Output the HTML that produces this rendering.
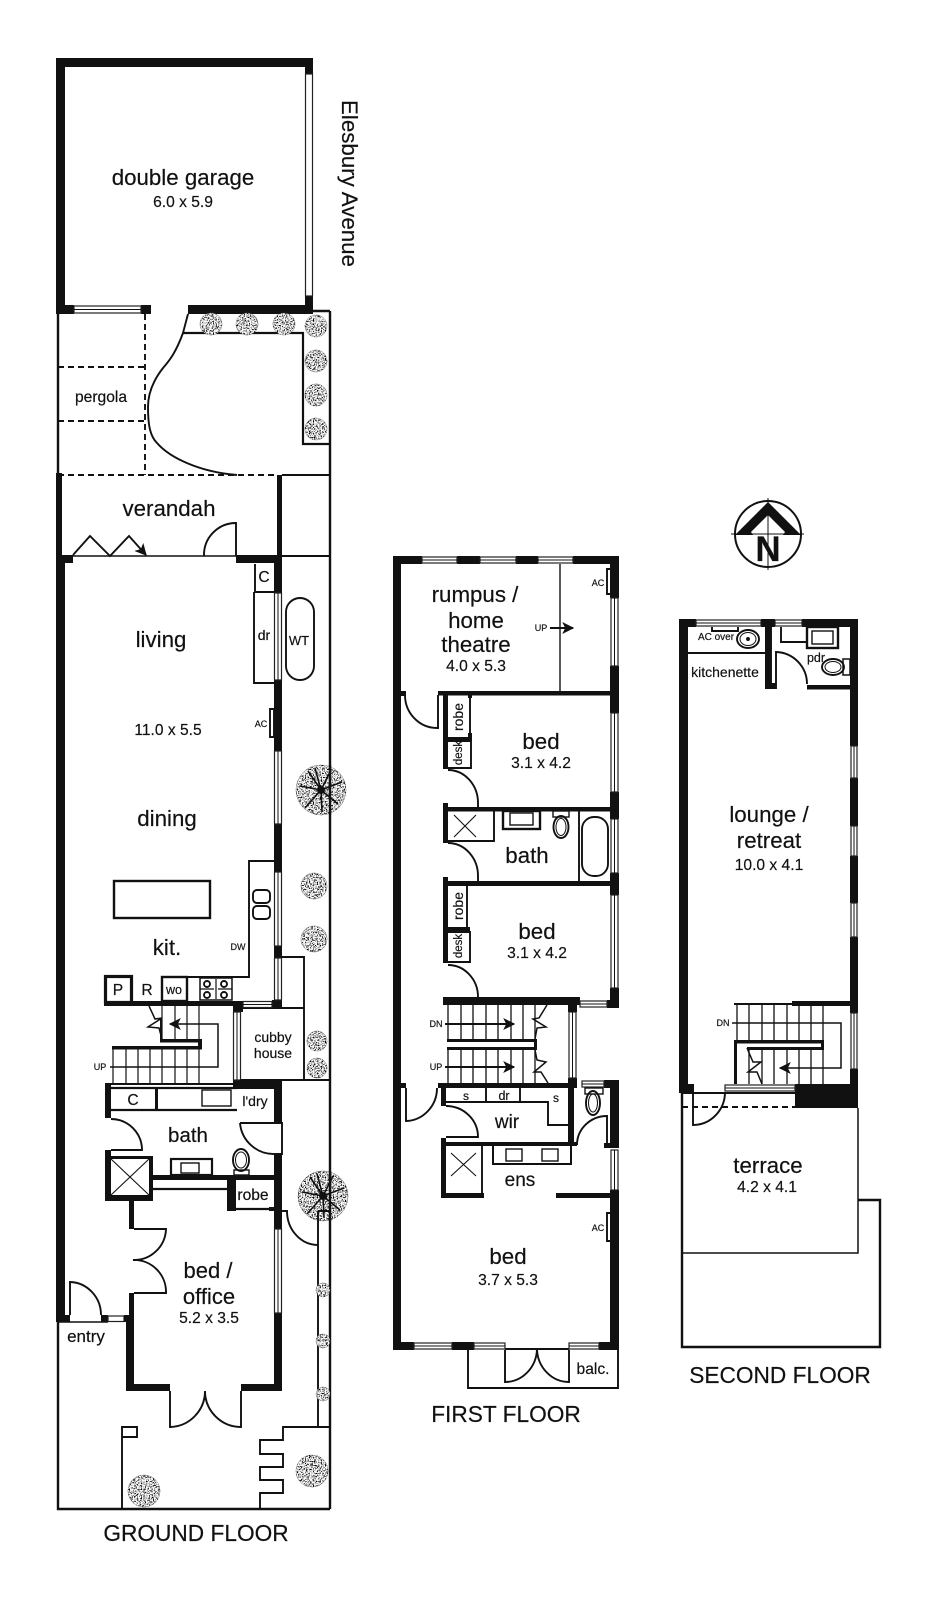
<!DOCTYPE html>
<html><head><meta charset="utf-8"><style>
html,body{margin:0;padding:0;background:#fff}
svg{display:block}
text{font-family:"Liberation Sans",sans-serif;fill:#111;text-anchor:middle;stroke:#111;stroke-width:.18px}
.t{font-size:22.3px}.s{font-size:15.6px}.m{font-size:19px}.x{font-size:9px}.f{font-size:22.7px}
.n{fill:none;stroke:#111;stroke-width:1}
.d{fill:none;stroke:#111;stroke-width:1.9;stroke-dasharray:6 4}
.w{fill:#fff;stroke:#222;stroke-width:1.2}
</style></head><body>
<svg width="933" height="1600" viewBox="0 0 933 1600" xmlns="http://www.w3.org/2000/svg">
<defs>
<filter id="sp" filterUnits="userSpaceOnUse" x="0" y="0" width="933" height="1600">
<feTurbulence type="fractalNoise" baseFrequency=".75" numOctaves="2" seed="4" result="n"/>
<feColorMatrix in="n" type="matrix" values="0 0 0 0 0 0 0 0 0 0 0 0 0 0 0 6 0 0 0 -2.75" result="k"/>
<feComposite in="k" in2="SourceAlpha" operator="in" result="c"/>
<feMerge><feMergeNode in="SourceGraphic"/><feMergeNode in="c"/></feMerge>
</filter>
<marker id="a" viewBox="0 0 10 10" refX="9" refY="5" markerWidth="12" markerHeight="12" orient="auto" markerUnits="userSpaceOnUse"><path d="M0 0L10 5L0 10L2.5 5Z" fill="#111" stroke="none"/></marker>
</defs>
<rect width="933" height="1600" fill="#fff"/>

<!-- GROUND: site lines -->
<g fill="none" stroke="#111" stroke-width="1.9">
<path d="M330 311H313M330 311V1509M58 314V473M58 1322V1509H330" stroke-width="2.4"/>
<path d="M183 333H303V444H330" stroke-width="2.2"/>
<path d="M188 314L183 333C176 352 170 360 163 368C152 382 148 395 148 407C148 425 150 436 157 443C170 458 200 472 237 475"/>
<path d="M282 475H330M282 556H330"/>
<path d="M73 556H236" stroke-width="1.6"/>
<path d="M73 555L90 536L110 556L129 536L146 555" marker-end="url(#a)"/>
<path d="M236 556V523A32 32 0 0 0 204 556"/>
<rect x="286" y="598" width="28" height="82" rx="14"/>
<path d="M282 957H304V1080M241 1008H304M241 1080H330" />
<path d="M318 1427V1211H330M282 1211H287A31 34 0 0 0 318 1245"/>
<path d="M330 1427H283V1440H260V1454H283V1467H260V1480H283V1493H260V1509"/>
<path d="M122 1509V1427H137V1437H122"/>
<path d="M58 1322H108" stroke-width="1.6"/>
</g>
<g class="d">
<path d="M145 314V475M58 367H145M58 421H145M58 475H277"/>
</g>

<!-- GROUND: interior lines -->
<g fill="none" stroke="#111" stroke-width="1.9">
<path d="M255 564V592H274M254 592V683H274" />
<path d="M270 709H274V737H270Z"/>
<path d="M274 861H249V977H162"/>
<rect x="114" y="881" width="96" height="37" stroke-width="2.4"/>
<rect x="253" y="890" width="17" height="13" rx="4"/><rect x="253" y="906" width="17" height="13" rx="4"/>
<rect x="105.500" y="976.500" width="26" height="26" stroke-width="3.2"/>
<rect x="162" y="977" width="25" height="24" stroke-width="2.4"/>
<rect x="200" y="978" width="32" height="22" stroke-width="1.5"/>
<circle cx="207" cy="984" r="3"/><circle cx="207" cy="995" r="3"/><circle cx="224" cy="984" r="3"/><circle cx="224" cy="995" r="3"/>
<path d="M216 979V999M200 989H214M218 989H232" stroke-width="1.2"/>
<path d="M162 1006V1039M175 1006V1039M187 1006V1039M199 1006V1039M113 1049V1084M126 1049V1084M138 1049V1084M150 1049V1084M162 1049V1084M175 1049V1084M187 1049V1084M199 1049V1084" stroke-width="1.2"/>
<path d="M110 1067H218V1024H170" marker-end="url(#a)" stroke-width="1.5"/>
<path d="M149 1006L155 1019L162 1018L148 1027L159 1028L162 1039" stroke-width="1.5"/>
<path d="M111 1088H237M111 1110H237" stroke-width="2.2"/>
<rect x="202" y="1090" width="29" height="16" stroke-width="1.4"/>
<path d="M111 1119A31 31 0 0 1 142 1150H111"/>
<path d="M240 1123A34 34 0 0 0 275 1154H282V1123H240" />
<rect x="171" y="1159" width="41" height="16" stroke-width="2.2"/><rect x="181" y="1163" width="18" height="10" stroke-width="1.4"/>
<ellipse cx="241" cy="1160" rx="8" ry="11"/><ellipse cx="241" cy="1160" rx="5.500" ry="8" stroke-width="1"/><rect x="234" y="1170" width="15" height="5" stroke-width="1.4"/>
<path d="M111 1159L149 1195M149 1159L111 1195" stroke-width="1.1"/>
<path d="M153 1189H227M236 1209H274" stroke-width="2.2"/>
<path d="M134 1229H166A32 32 0 0 1 133 1260A32 32 0 0 1 166 1293H134"/>
<path d="M70 1315V1282A32 33 0 0 1 101 1315"/>
<path d="M170 1391V1427A36 36 0 0 0 205 1391A36 36 0 0 0 241 1427V1391"/>
</g>

<!-- GROUND: solid walls -->
<g fill="#111">
<rect x="56" y="58" width="257" height="9"/>
<rect x="56" y="58" width="9" height="256"/>
<rect x="305" y="58" width="8" height="16"/><rect x="305" y="296" width="8" height="18"/>
<rect x="56" y="305" width="18" height="9"/><rect x="141" y="305" width="10" height="9"/>
<rect x="188" y="305" width="125" height="9"/>
<rect x="56" y="473" width="6" height="90"/>
<rect x="277" y="475" width="5" height="88"/>
<rect x="56" y="555" width="17" height="8"/>
<rect x="236" y="555" width="46" height="8"/>
<rect x="56" y="563" width="9" height="759"/>
<rect x="56" y="1315" width="14" height="7"/>
<rect x="274" y="555" width="8" height="38"/><rect x="274" y="680" width="8" height="71"/><rect x="274" y="824" width="8" height="48"/><rect x="274" y="946" width="8" height="12"/><rect x="272" y="1000" width="10" height="8"/>
<rect x="104" y="1001" width="139" height="5"/>
<rect x="233" y="1001" width="10" height="11"/>
<rect x="112" y="1046" width="90" height="3.500"/><rect x="160" y="1039" width="42" height="3.500"/><rect x="198" y="1039" width="4" height="10"/><rect x="160" y="1019" width="2" height="22"/>
<rect x="105" y="1083" width="128" height="2"/>
<rect x="233" y="1080" width="49" height="9"/>
<rect x="105" y="1084" width="6" height="34"/>
<rect x="155" y="1088" width="3" height="22"/>
<rect x="274" y="1084" width="8" height="39"/>
<rect x="274" y="1154" width="8" height="75"/>
<rect x="105" y="1150" width="6" height="50"/><rect x="105" y="1195" width="48" height="6"/><rect x="105" y="1156" width="48" height="3"/><rect x="149" y="1156" width="4" height="45"/>
<rect x="149" y="1175" width="126" height="5"/>
<rect x="227" y="1175" width="9" height="36"/>
<rect x="269" y="1207" width="6" height="4"/>
<rect x="129" y="1200" width="5" height="29"/><rect x="129" y="1293" width="5" height="25"/>
<rect x="126" y="1315" width="8" height="76"/>
<rect x="126" y="1384" width="44" height="7"/><rect x="241" y="1384" width="41" height="7"/>
<rect x="274" y="1313" width="8" height="78"/>
<rect x="101" y="1315" width="7" height="7"/>
</g>
<!-- GROUND: windows -->
<g>
<rect class="w" x="305.500" y="74" width="7" height="222"/>
<rect class="w" x="74" y="306" width="67" height="7"/><path d="M74 309.500H141" class="n"/>
<rect class="w" x="274.500" y="593" width="7" height="87"/><path d="M278 593V680" class="n"/>
<rect class="w" x="274.500" y="751" width="7" height="73"/><path d="M278 751V824" class="n"/>
<rect class="w" x="274.500" y="872" width="7" height="74"/><path d="M278 872V946" class="n"/>
<rect class="w" x="274.500" y="958" width="7" height="42"/><path d="M278 958V1000" class="n"/>
<rect class="w" x="243" y="1001.500" width="29" height="6"/><path d="M243 1004.500H272" class="n"/>
<rect class="w" x="233.500" y="1012" width="7" height="68"/><path d="M237 1012V1080" class="n"/>
<rect class="w" x="274.500" y="1229" width="7" height="84"/><path d="M278 1229V1313" class="n"/>
<rect class="w" x="108" y="1316" width="16" height="5.500"/><rect fill="#111" x="124" y="1315" width="10" height="7"/>
</g>

<!-- Plants -->
<g filter="url(#sp)" fill="#fff" stroke="#666" stroke-width=".4">
<circle cx="211" cy="324" r="11"/><circle cx="247" cy="324" r="11"/><circle cx="284" cy="324" r="11"/><circle cx="316" cy="326" r="11"/><circle cx="316" cy="361" r="11"/><circle cx="316" cy="395" r="11"/><circle cx="316" cy="429" r="11"/>
<circle cx="314" cy="886" r="13"/><circle cx="314" cy="939" r="13"/><circle cx="317" cy="1041" r="10"/><circle cx="317" cy="1068" r="10"/>
<circle cx="323" cy="1290" r="7"/><circle cx="323" cy="1341" r="7"/><circle cx="323" cy="1394" r="7"/>
<circle cx="312" cy="1471" r="16"/><circle cx="144" cy="1491" r="16"/>
<circle cx="321" cy="790" r="25"/><circle cx="323" cy="1196" r="25"/>
</g>
<g stroke="#111" stroke-width="1.6" fill="none">
<path d="M321 790L300 786M321 790L342 782M321 790L308 771M321 790L331 770M321 790L305 808M321 790L322 812M321 790L338 804M321 790L315 768" />
<path d="M323 1196L302 1192M323 1196L344 1188M323 1196L310 1177M323 1196L333 1176M323 1196L307 1214M323 1196L324 1218M323 1196L340 1210M323 1196L317 1174" />
<path d="M330 765V815M330 1171V1221" stroke-width="2.4"/>
<path d="M318 1211V1221M318 1211H330" stroke-width="1.9"/>
</g>
<circle cx="321" cy="790" r="4" fill="#111"/><circle cx="323" cy="1196" r="4" fill="#111"/>

<!-- GROUND text -->
<text class="t" x="183" y="185">double garage</text>
<text class="s" x="183" y="207">6.0 x 5.9</text>
<text class="s" x="101" y="402">pergola</text>
<text class="t" x="169" y="516">verandah</text>
<text class="t" transform="translate(342 100) rotate(90)" style="text-anchor:start">Elesbury Avenue</text>
<text class="t" x="161" y="647">living</text>
<text class="s" x="168" y="735">11.0 x 5.5</text>
<text class="t" x="167" y="826">dining</text>
<text class="t" x="167" y="955">kit.</text>
<text class="s" x="264" y="582">C</text>
<text style="font-size:14px" x="264" y="640">dr</text>
<text style="font-size:13px" x="299" y="645">WT</text>
<text class="x" x="261" y="727">AC</text>
<text class="x" x="238" y="950">DW</text>
<text class="s" x="118" y="995">P</text>
<text class="s" x="147" y="995">R</text>
<text style="font-size:12.5px" x="174" y="994">wo</text>
<text style="font-size:14px" x="273" y="1042">cubby</text>
<text style="font-size:14px" x="273" y="1058">house</text>
<text class="x" x="100" y="1070">UP</text>
<text class="s" x="133" y="1105">C</text>
<text style="font-size:14px" x="255" y="1106">l'dry</text>
<text style="font-size:20.5px" x="188" y="1142">bath</text>
<text class="s" x="253" y="1200">robe</text>
<text style="font-size:22px" x="208" y="1278">bed /</text>
<text style="font-size:22px" x="209" y="1304">office</text>
<text class="s" x="209" y="1323">5.2 x 3.5</text>
<text style="font-size:17px" x="86" y="1342">entry</text>
<text class="f" x="196" y="1541">GROUND FLOOR</text>

<!-- FIRST FLOOR lines -->
<g fill="none" stroke="#111" stroke-width="1.9">
<path d="M560 564V691" stroke-width="1.4"/>
<path d="M607 569H611V594H607Z"/>
<path d="M550 628H573" marker-end="url(#a)"/>
<path d="M405 695A32 33 0 0 0 437 728H438V695" />
<path d="M470 695V737M448 741H471V768H448" />
<path d="M448 770A30 33 0 0 1 478 803V808"/>
<path d="M448 841H494V811"/>
<path d="M454 815L476 837M476 815L454 837" stroke-width="1.1"/>
<rect x="503" y="811" width="37" height="18" stroke-width="2.4"/><rect x="510" y="813" width="23" height="12" stroke-width="1.4"/>
<ellipse cx="561" cy="827" rx="7.500" ry="11"/><ellipse cx="561" cy="827" rx="5" ry="8.500" stroke-width="1"/><rect x="553" y="811" width="16" height="6" stroke-width="1.4"/>
<path d="M579 811V881"/><rect x="582" y="817" width="26" height="59" rx="12"/>
<path d="M448 843A30 33 0 0 1 478 877V882"/>
<path d="M467 886V927M448 932H470V962H448"/>
<path d="M448 965A30 32 0 0 1 478 997"/>
<path d="M448 1005V1039M461 1005V1039M473 1005V1039M486 1005V1039M498 1005V1039M511 1005V1039M523 1005V1039M535 1005V1039M448 1050V1083M461 1050V1083M473 1050V1083M486 1050V1083M498 1050V1083M511 1050V1083M523 1050V1083M535 1050V1083" stroke-width="1.3"/>
<path d="M445 1024H514" marker-end="url(#a)"/>
<path d="M445 1067H514" marker-end="url(#a)"/>
<path d="M547 1005L539 1018L533 1019L546 1027L537 1028L535 1039" stroke-width="1.5"/>
<path d="M535 1050L537 1060L546 1062L534 1072L541 1072L548 1083" stroke-width="1.5"/>
<path d="M406 1088V1121A32 33 0 0 0 437 1088"/>
<path d="M446 1102H548V1125H568M486 1088V1102M520 1088V1102" />
<path d="M446 1106A32 31 0 0 1 478 1137H446"/>
<path d="M482 1146V1193"/>
<path d="M451 1153L476 1176M476 1153L451 1176" stroke-width="1.1"/>
<path d="M493 1146V1164H571V1146" stroke-width="2"/>
<rect x="506" y="1149" width="16" height="12" stroke-width="1.4"/><rect x="542" y="1149" width="16" height="12" stroke-width="1.4"/>
<ellipse cx="593" cy="1103" rx="7" ry="12"/><ellipse cx="593" cy="1103" rx="4.500" ry="9" stroke-width="1"/><rect x="585" y="1088" width="18" height="6" stroke-width="1.4"/>
<path d="M607 1145V1116A30 29 0 0 0 577 1145"/>
<path d="M607 1213H611V1241H607Z"/>
<path d="M468 1350V1388H618V1350M505 1349H569" />
<path d="M505 1350V1382A32 34 0 0 0 537 1349A32 34 0 0 0 569 1382V1350"/>
</g>
<g fill="#111">
<rect x="393" y="556" width="29" height="8"/><rect x="457" y="556" width="23" height="8"/><rect x="516" y="556" width="22" height="8"/><rect x="573" y="556" width="46" height="8"/>
<rect x="393" y="556" width="8" height="794"/>
<rect x="610" y="556" width="9" height="42"/><rect x="610" y="666" width="9" height="47"/><rect x="610" y="792" width="9" height="27"/><rect x="610" y="873" width="9" height="22"/><rect x="610" y="988" width="9" height="20"/>
<rect x="401" y="691" width="5" height="5"/>
<rect x="438" y="691" width="172" height="4.500"/>
<rect x="443" y="691" width="5" height="78"/>
<rect x="448" y="737" width="24" height="4"/><rect x="468" y="733" width="4" height="8"/><rect x="468" y="695" width="4" height="3"/>
<rect x="443" y="807" width="167" height="4.500"/>
<rect x="443" y="803" width="5" height="40"/>
<rect x="443" y="881" width="167" height="5"/>
<rect x="443" y="877" width="5" height="86"/>
<rect x="448" y="927" width="22" height="5"/>
<rect x="443" y="997" width="137" height="8"/>
<rect x="568" y="1001" width="9" height="11"/>
<rect x="607" y="1000" width="12" height="8"/>
<rect x="447" y="1039" width="90" height="3"/><rect x="447" y="1047" width="90" height="3"/><rect x="534" y="1039" width="3" height="11"/>
<rect x="401" y="1083" width="5" height="5"/>
<rect x="438" y="1083" width="139" height="5"/>
<rect x="568" y="1078" width="9" height="10"/>
<rect x="568" y="1083" width="6" height="63"/>
<rect x="604" y="1080" width="15" height="8"/>
<rect x="610" y="1080" width="9" height="68"/>
<rect x="604" y="1143" width="15" height="5"/>
<rect x="610" y="1190" width="9" height="160"/>
<rect x="441" y="1088" width="5" height="18"/>
<rect x="441" y="1138" width="5" height="60"/>
<rect x="441" y="1142" width="136" height="4"/>
<rect x="441" y="1193" width="43" height="5"/>
<rect x="556" y="1193" width="54" height="5"/>
<rect x="393" y="1342" width="21" height="8"/><rect x="452" y="1342" width="22" height="8"/><rect x="599" y="1342" width="20" height="8"/>
</g>
<g>
<rect class="w" x="422" y="557" width="35" height="6"/><path class="n" d="M422 560H457"/>
<rect class="w" x="480" y="557" width="36" height="6"/><path class="n" d="M480 560H516"/>
<rect class="w" x="538" y="557" width="35" height="6"/><path class="n" d="M538 560H573"/>
<rect class="w" x="611" y="598" width="7" height="68"/><path class="n" d="M614.500 598V666"/>
<rect class="w" x="611" y="713" width="7" height="79"/><path class="n" d="M614.500 713V792"/>
<rect class="w" x="611" y="819" width="7" height="54"/><path class="n" d="M614.500 819V873"/>
<rect class="w" x="611" y="895" width="7" height="93"/><path class="n" d="M614.500 895V988"/>
<rect class="w" x="580" y="1001" width="27" height="6"/><path class="n" d="M580 1004H607"/>
<rect class="w" x="569" y="1012" width="7" height="66"/><path class="n" d="M572.500 1012V1078"/>
<rect class="w" x="582" y="1081" width="22" height="6"/><path class="n" d="M582 1084H604"/>
<rect class="w" x="611" y="1150" width="7" height="40"/><path class="n" d="M614.500 1150V1190"/>
<rect class="w" x="414" y="1343" width="38" height="6"/><path class="n" d="M414 1346H452"/>
<rect class="w" x="474" y="1343" width="31" height="6"/><path class="n" d="M474 1346H505"/>
<rect class="w" x="569" y="1343" width="30" height="6"/><path class="n" d="M569 1346H599"/>
</g>
<text class="t" x="475" y="602">rumpus /</text>
<text class="t" x="476" y="628">home</text>
<text class="t" x="476" y="652">theatre</text>
<text class="s" x="476" y="671">4.0 x 5.3</text>
<text class="x" x="598" y="586">AC</text>
<text class="x" x="541" y="631">UP</text>
<text transform="translate(463 717) rotate(-90)" style="font-size:14px">robe</text>
<text transform="translate(462 753) rotate(-90)" style="font-size:11.5px">desk</text>
<text class="t" x="541" y="749">bed</text>
<text class="s" x="541" y="768">3.1 x 4.2</text>
<text class="t" x="527" y="863">bath</text>
<text class="t" x="537" y="939">bed</text>
<text class="s" x="537" y="958">3.1 x 4.2</text>
<text transform="translate(463 906) rotate(-90)" style="font-size:14px">robe</text>
<text transform="translate(462 946) rotate(-90)" style="font-size:11.5px">desk</text>
<text class="x" x="436" y="1027">DN</text>
<text class="x" x="436" y="1070">UP</text>
<text style="font-size:12px" x="466" y="1100">s</text>
<text style="font-size:12.5px" x="504" y="1100">dr</text>
<text style="font-size:12px" x="556" y="1102">s</text>
<text class="m" x="507" y="1128">wir</text>
<text class="m" x="520" y="1186">ens</text>
<text class="x" x="598" y="1231">AC</text>
<text class="t" x="508" y="1264">bed</text>
<text class="s" x="508" y="1285">3.7 x 5.3</text>
<text class="s" x="593" y="1374">balc.</text>
<text class="f" x="506" y="1422">FIRST FLOOR</text>

<!-- SECOND FLOOR -->
<g fill="none" stroke="#111" stroke-width="1.9">
<circle cx="768" cy="534" r="33" stroke-width="2"/>
<path d="M768 498V570M731 534H804" stroke-width="1"/>
<path d="M688 653H765"/>
<path d="M712 627V631H738V627" />
<ellipse cx="748" cy="639" rx="11" ry="9"/><ellipse cx="748" cy="639" rx="8" ry="6.500" stroke-width="1"/><circle cx="748" cy="639" r="1" />
<path d="M771 627V683M781 627V642H807"/>
<path d="M776 689V652A32 32 0 0 1 807 684"/>
<rect x="807" y="627" width="31" height="21" stroke-width="2.4"/><rect x="812" y="631" width="21" height="13" stroke-width="1.4"/>
<ellipse cx="833" cy="667" rx="11" ry="8"/><ellipse cx="833" cy="667" rx="8" ry="5.500" stroke-width="1"/><rect x="843" y="659" width="7" height="16" stroke-width="1.5"/>
<path d="M737 1005V1040M749 1005V1040M762 1005V1040M774 1005V1040M787 1005V1040M799 1005V1040M811 1005V1040M823 1005V1040M749 1050V1084M762 1050V1084M774 1050V1084M787 1050V1084M799 1050V1084M811 1050V1084M823 1050V1084" stroke-width="1.3"/>
<path d="M732 1023H841V1068H780" marker-end="url(#a)" stroke-width="1.5"/>
<path d="M747 1048L753 1062L761 1062L748 1072L757 1072L762 1084" stroke-width="1.5"/>
<path d="M682 1093H795"/>
<path d="M682 1093V1347H880V1200H858" stroke-width="2.4"/>
<path d="M858 1108V1253H682" stroke-width="1.5"/>
<path d="M693 1093V1125A32 33 0 0 0 725 1092"/>
</g>
<path class="d" d="M682 1107H795"/>
<path d="M768 502L801 535H783L785 532L768 515L751 532L753 535H735Z" fill="#111"/>
<g fill="#111">
<rect x="679" y="619" width="17" height="8"/><rect x="761" y="619" width="14" height="8"/><rect x="802" y="619" width="56" height="8"/>
<rect x="679" y="619" width="9" height="474"/>
<rect x="850" y="619" width="8" height="127"/><rect x="850" y="778" width="8" height="48"/><rect x="850" y="856" width="8" height="47"/><rect x="850" y="937" width="8" height="76"/><rect x="850" y="1069" width="8" height="39"/>
<rect x="765" y="627" width="6" height="62"/><rect x="765" y="683" width="11" height="6"/>
<rect x="807" y="685" width="43" height="4.500"/>
<rect x="734" y="1003" width="116" height="2"/><rect x="792" y="1001" width="58" height="5"/>
<rect x="734" y="1040" width="90" height="3.500"/><rect x="734" y="1040" width="3" height="44"/><rect x="747" y="1047" width="77" height="3"/><rect x="821" y="1040" width="3" height="10"/>
<rect x="679" y="1084" width="15" height="9"/>
<rect x="795" y="1084" width="63" height="24"/>
</g>
<g>
<rect class="w" x="696" y="620" width="65" height="6"/><path class="n" d="M696 623H761"/>
<rect class="w" x="775" y="620" width="27" height="6"/><path class="n" d="M775 623H802"/>
<rect class="w" x="851" y="746" width="6" height="32"/><path class="n" d="M854 746V778"/>
<rect class="w" x="851" y="826" width="6" height="30"/><path class="n" d="M854 826V856"/>
<rect class="w" x="851" y="903" width="6" height="34"/><path class="n" d="M854 903V937"/>
<rect class="w" x="851" y="1013" width="6" height="56"/><path class="n" d="M854 1013V1069"/>
<rect class="w" x="725" y="1085" width="70" height="6"/><path class="n" d="M725 1088H795"/>
</g>
<text x="768" y="561" style="font-size:35px;font-weight:bold">N</text>
<text style="font-size:10px" x="716" y="640">AC over</text>
<text style="font-size:14px" x="725" y="677">kitchenette</text>
<text style="font-size:12.5px" x="816" y="662">pdr</text>
<text class="t" x="769" y="822">lounge /</text>
<text class="t" x="769" y="848">retreat</text>
<text class="s" x="769" y="870">10.0 x 4.1</text>
<text class="x" x="723" y="1026">DN</text>
<text class="t" x="768" y="1173">terrace</text>
<text class="s" x="767" y="1192">4.2 x 4.1</text>
<text class="f" x="780" y="1383">SECOND FLOOR</text>
</svg>
</body></html>
